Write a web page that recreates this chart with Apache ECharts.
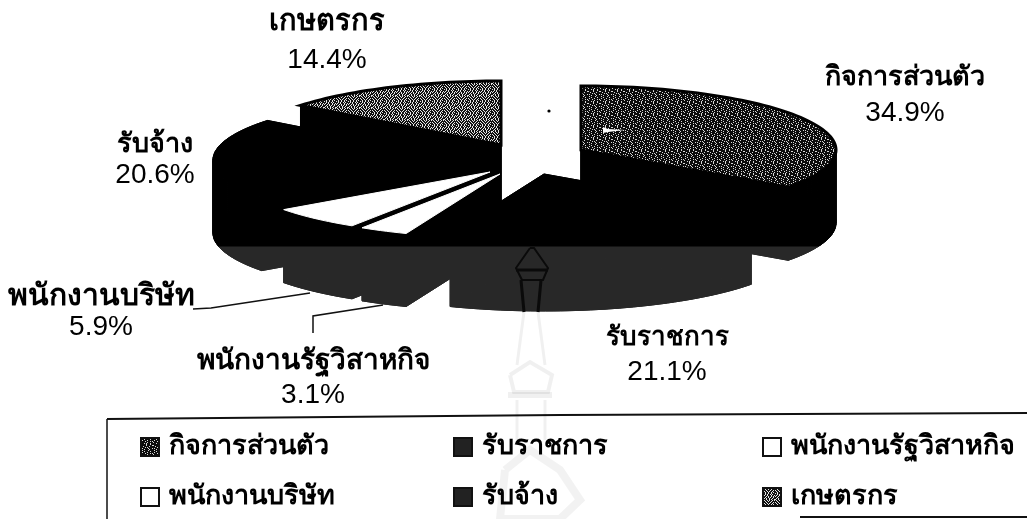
<!DOCTYPE html>
<html><head><meta charset="utf-8">
<style>html,body{margin:0;padding:0;background:#fff}#c{width:1027px;height:519px}</style>
<script src="https://cdn.jsdelivr.net/npm/echarts@6/dist/echarts.min.js"></script>
</head><body><div id="c"></div>
<script>
const categories = ['กิจการส่วนตัว','รับราชการ','พนักงานรัฐวิสาหกิจ','พนักงานบริษัท','รับจ้าง','เกษตรกร'];
const values = [34.9,21.1,3.1,5.9,20.6,14.4];
const percentLabels = ['34.9%','21.1%','3.1%','5.9%','20.6%','14.4%'];

// layout of the exploded, tilted pie
const RX = 255, RY = 64, DEPTH = 73;
const apex = [[581,150],[544,174],[500,174],[490,172],[468,160],[501,145]];
const labelPos = [[905,78,113],[667,338,372],[313,361,395],[101,297,327],[155,145,175],[327,22,60]];
const nameSize = [27,26,28,30,27,29];
const paint = [2,6,5,4,3,1]; // draw order per category (1 = furthest back)

const chart = echarts.init(document.getElementById('c'),null,{renderer:'canvas'});
function dither(rows,dark,light){
  const c=document.createElement('canvas');c.width=rows[0].length;c.height=rows.length;
  const g=c.getContext('2d');
  rows.forEach((r,y)=>[...r].forEach((ch,x)=>{g.fillStyle=ch==='#'?dark:light;g.fillRect(x,y,1,1);}));
  return c;
}
const patA = dither(['#.#####.####','###.#####.##','#.####.#####','####.####.#.','.#####.#####','###.#.###.##','#####.###.##','.####.#####.','##.#####.###','####.#.#####','#.#####.###.','###.####.###'],'#0c0c0c','#d8d8d8');
const patB = dither(['#.##.#.##.#.','##.##.##.###','.##.###.##.#','#.##.#.##.##','##.##.##.#.#','.#.##.##.###','##.#.##.#.##','#.##.###.##.','.##.#.##.#.#','##.##.#.##.#','#.#.##.##.##','.##.##.#.##.'],'#101010','#e4e4e4');
const band = new echarts.graphic.LinearGradient(0,246,0,247,[{offset:0,color:'#000'},{offset:1,color:'#282828'}],true);
const topFill = [{image:patA,repeat:'repeat'},band,'#fff','#fff',band,{image:patB,repeat:'repeat'}];
const legendFill = [{image:patA,repeat:'repeat'},'#222','#fff','#fff','#222',{image:patB,repeat:'repeat'}];
const total = values.reduce((a,b)=>a+b,0);
const FONT='"Liberation Sans","Noto Sans",sans-serif';

function renderSlice(idx){
  return function(params,api){
    const before = values.slice(0,idx).reduce((a,b)=>a+b,0);
    const a0 = before/total*Math.PI*2;
    const a1 = a0 + api.value(0)/total*Math.PI*2;
    const [cx,cy] = apex[idx];
    const arc=[];
    const n=Math.max(4,Math.ceil((a1-a0)/0.03));
    for(let i=0;i<=n;i++){const t=a0+(a1-a0)*i/n;arc.push([cx+RX*Math.sin(t),cy-RY*Math.cos(t)]);}
    const down=p=>[p[0],p[1]+DEPTH];
    const c=[cx,cy],top=[c].concat(arc),bottom=top.map(down);
    const wall=()=>({fill:band,stroke:band,lineWidth:1});
    const poly=(pts,style)=>({type:'polygon',silent:true,shape:{points:pts},style});
    const kids=[poly(bottom,wall())];
    for(let i=0;i<n;i++) kids.push(poly([arc[i],arc[i+1],down(arc[i+1]),down(arc[i])],wall()));
    kids.push(poly([c,arc[0],down(arc[0]),down(c)],wall()));
    kids.push(poly([c,arc[n],down(arc[n]),down(c)],wall()));
    const patterned=(idx===0||idx===5);
    kids.push(poly(top,{fill:topFill[idx],stroke:patterned?'#000':(idx===1||idx===4?band:'#fff'),lineWidth:patterned?3:1}));
    const [lx,ly1,ly2]=labelPos[idx];
    kids.push({type:'text',silent:true,style:{x:lx,y:ly1,text:categories[idx],fill:'#000',font:'bold '+nameSize[idx]+'px '+FONT,textAlign:'center',textVerticalAlign:'middle'}});
    kids.push({type:'text',silent:true,style:{x:lx,y:ly2,text:percentLabels[idx],fill:'#000',font:'28px '+FONT,textAlign:'center',textVerticalAlign:'middle'}});
    return {type:'group',children:kids};
  };
}
const series = categories.map((name,i)=>({
  type:'custom',name,coordinateSystem:'none',z:paint[i]+1,animation:false,silent:true,
  itemStyle:{color:legendFill[i],borderColor:'#111',borderWidth:2},
  renderItem:renderSlice(i),data:[[values[i]]]
}));
const legendCols=[[0,3,140],[1,4,453],[2,5,762]];
const legend=legendCols.map(([a,b,left])=>({
  orient:'vertical',left,top:433,itemWidth:18,itemHeight:18,itemGap:22,padding:0,selectedMode:false,
  icon:'rect',textStyle:{fontSize:27,fontWeight:'bold',color:'#000',padding:[0,0,0,5],lineHeight:28,fontFamily:FONT},
  data:[categories[a],categories[b]]
}));
const line=(pts,w,color)=>({type:'polyline',silent:true,z:20,shape:{points:pts},style:{stroke:color||'#111',lineWidth:w||1.5,fill:null}});
const wm='rgba(0,0,0,0.06)';
const graphic=[
  line([[107,419],[560,415],[1027,413]],2),
  line([[107,419],[107,519]],1.5),
  line([[800,517],[1027,517]],2),
  line([[193,309],[211,308],[310,293]],1.5),
  line([[383,305],[313,316],[313,333]],1.5),
  {type:'circle',silent:true,z:20,shape:{cx:549,cy:111,r:1.6},style:{fill:'#000'}},
  {type:'polygon',silent:true,z:20,shape:{points:[[603,127],[608,129],[625,130],[608,132],[603,133]]},style:{fill:'#fff'}},
  line([[530,248],[516,268],[522,280],[543,280],[548,268],[534,248],[530,248]],2,'#0a0a0a'),
  line([[516,270],[548,270]],3,'#0a0a0a'),
  line([[521,280],[524,312]],3,'#0a0a0a'),
  line([[541,280],[538,312]],3,'#0a0a0a'),
  line([[524,312],[517,365]],3,wm),
  line([[538,312],[545,365]],3,wm),
  line([[510,375],[530,362],[552,375],[548,392],[514,392],[510,375]],4,wm),
  line([[508,395],[552,395]],6,wm),
  line([[517,400],[517,440]],3,wm),
  line([[545,400],[545,440]],3,wm),
  line([[505,470],[530,450],[560,470],[580,500],[560,519],[500,519],[505,470]],8,'rgba(0,0,0,0.05)')
];
chart.setOption({animation:false,backgroundColor:'#fff',legend,series,graphic});
</script></body></html>
